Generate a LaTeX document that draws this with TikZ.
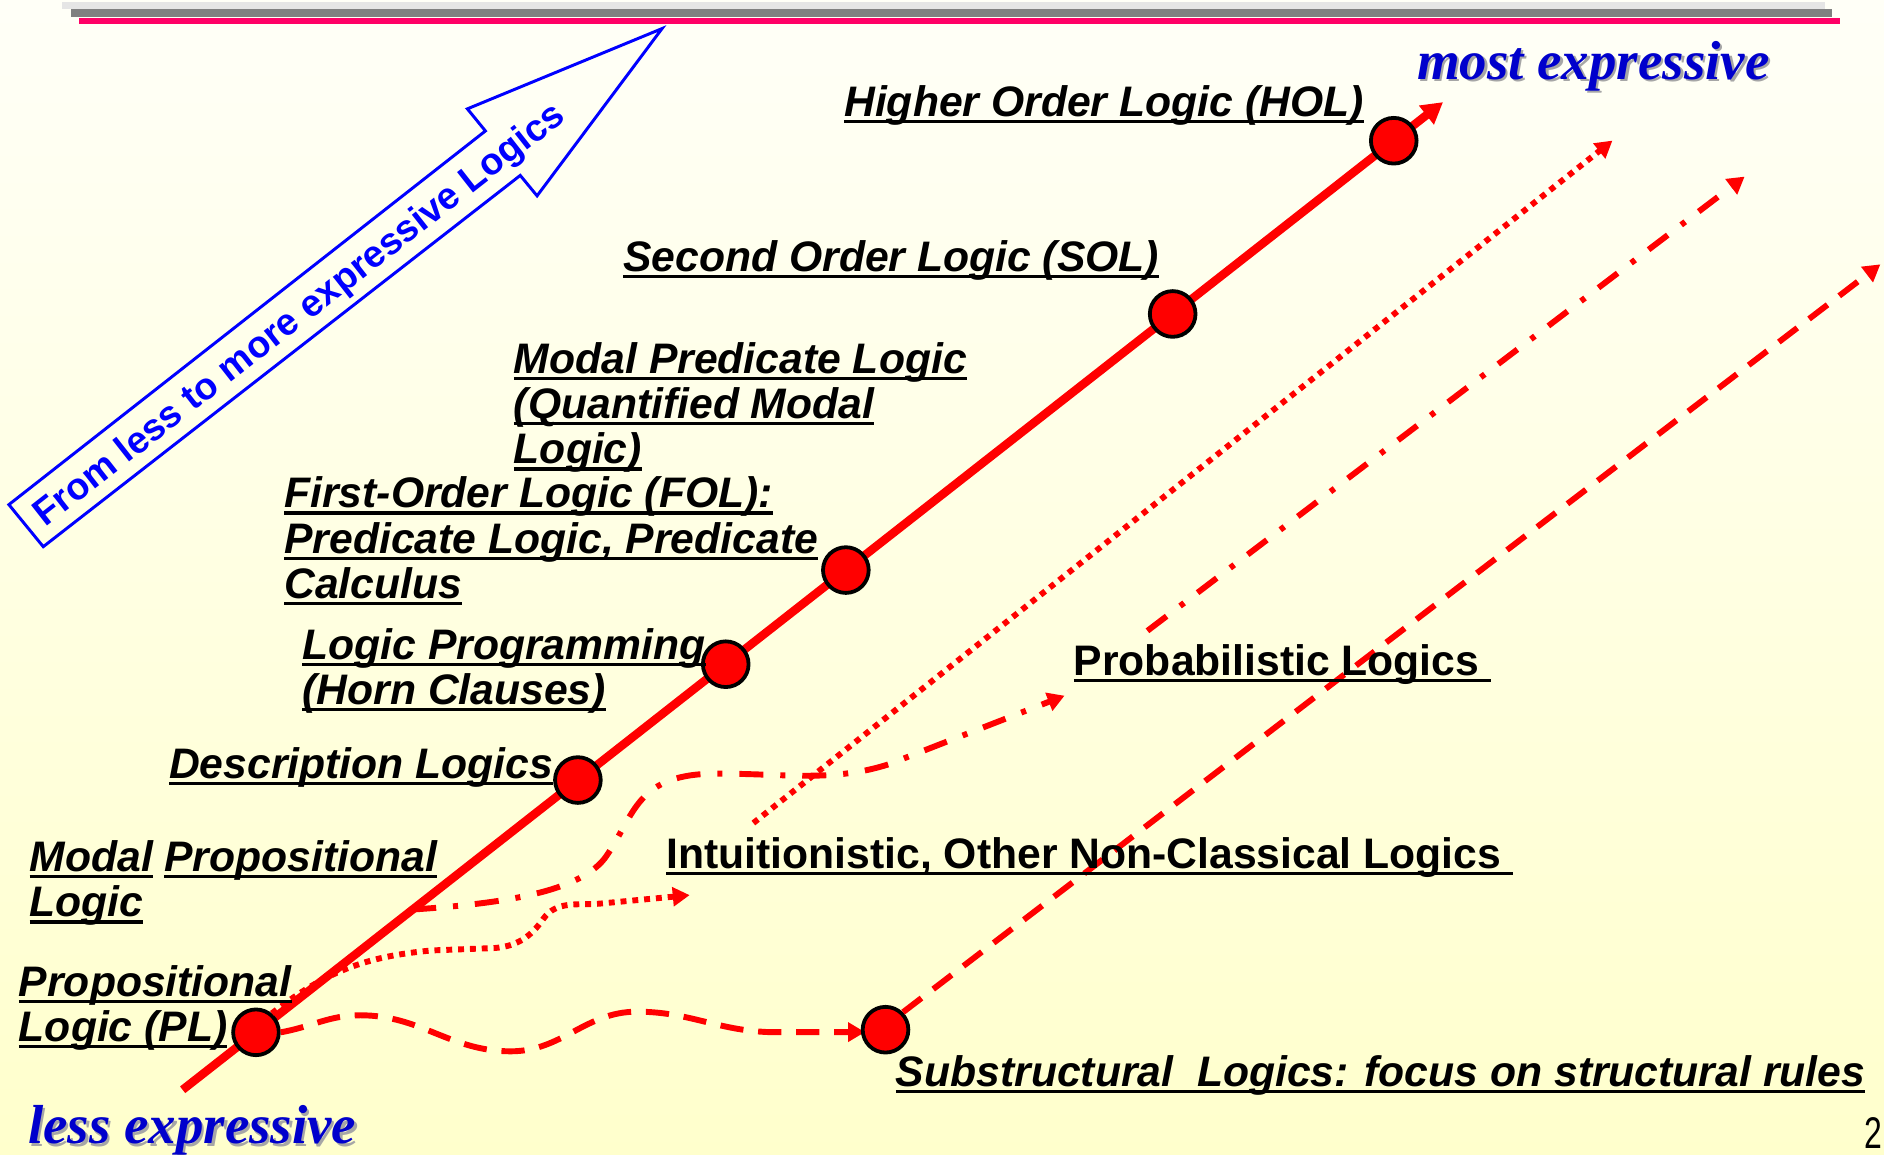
\documentclass[tikz,border=0pt]{standalone}
\usepackage{fontspec}
\setmainfont{Liberation Sans}
\newfontfamily\tms{Liberation Serif}
\usetikzlibrary{arrows.meta}
\usetikzlibrary{positioning}
\definecolor{mred}{rgb}{1, 0, 0}
\definecolor{mpink}{rgb}{1, 0, 0.4}
\definecolor{mblue}{rgb}{0, 0, 1}
\definecolor{mnavy}{rgb}{0, 0, 0.8}
\definecolor{mcream}{rgb}{1, 1, 0.8}
\definecolor{mtop}{rgb}{1, 1, 0.97}
\newcommand{\uln}[1]{\setbox0\hbox{#1}\rlap{\rule[-1.6pt]{\wd0}{0.8pt}}\box0}
\tikzset{dot/.style = {draw = black, fill = mred, circle, line width = 0.9pt, inner sep = 0, minimum size = 0.38cm}}
\tikzset{lbl/.style = {anchor = base west, inner sep = 0, align = left, font = \bfseries\itshape\fontsize{10.1}{10.7}\selectfont}}
\tikzset{flow/.style = {draw = mred, line width = 1.4pt, -{Triangle[length = 4pt, width = 4.4pt]}}}
\tikzset{dsh/.style = {dash pattern = on 5.5pt off 3.5pt}}
\tikzset{dtt/.style = {dash pattern = on 1.4pt off 1.4pt}}
\tikzset{dshdt/.style = {dash pattern = on 5.7pt off 4pt on 1.2pt off 4pt}}

\begin{document}
\begin{tikzpicture}[x = 0.01cm, y = -0.01cm]
  \useasboundingbox (0, 0) rectangle (1568, 961);
  \shade[top color = mtop, bottom color = mcream] (0, 0) rectangle (1568, 961);
  \fill[black!10] (52, 1.5) rectangle (1519, 7.4);
  \fill[black!50] (59, 7.4) rectangle (1525, 14);
  \fill[mpink] (66, 15) rectangle (1531, 20);

  % big hollow arrow
  \draw[mblue, line width = 0.7pt] (7.4, 420) -- (404, 109) -- (389, 90.6) -- (551, 23.8)
    -- (447, 163) -- (433, 146) -- (36, 455) -- cycle;
  \node[rotate = 38.1, text = mblue, font = \bfseries\fontsize{8.9}{10}\selectfont] (way) at (250, 263) {From less to more expressive Logics};

  \node[text = black!35, font = \tms\bfseries\itshape\fontsize{13}{14}\selectfont] at (1328, 57) {most expressive};
  \node[text = mnavy, font = \tms\bfseries\itshape\fontsize{13}{14}\selectfont] (most) at (1326, 55) {most expressive};
  \node[text = black!35, font = \tms\bfseries\itshape\fontsize{13}{14}\selectfont] at (162, 943) {less expressive};
  \node[text = mnavy, font = \tms\bfseries\itshape\fontsize{13}{14}\selectfont] (less) at (160, 941) {less expressive};

  % main line
  \coordinate (lo) at (152, 907);
  \coordinate (hi) at (1201, 85);
  \draw[mred, line width = 2pt, -{Triangle[length = 5pt, width = 5.4pt]}] (lo) -- (hi)
    node[dot, pos = 0.0582] (pl) {}
    node[dot, pos = 0.3136] (dl) {}
    node[dot, pos = 0.4309] (lp) {}
    node[dot, pos = 0.5262] (fol) {}
    node[dot, pos = 0.7855] (sol) {}
    node[dot, pos = 0.9609] (hol) {};
  \coordinate (mpl) at (343, 757);

  % branches
  \draw[flow, dsh] (pl.east) to[out = 10, in = 180] (300, 845) to[out = 0, in = 180] (425, 875)
    to[out = 0, in = 180] (530, 842) to[out = 0, in = 178] (640, 859) -- (720, 859) coordinate (subin);
  \node[dot] (sub) at (737, 857) {};
  \coordinate (dshend) at (1565, 220);
  \draw[flow, dsh] (sub.45) -- (dshend);

  \coordinate (intuin) at (574, 745);
  \draw[flow, dtt] (pl.50) to[out = 38, in = 185] (360, 791) -- (412, 789)
    to[out = 5, in = 235] (452, 765) to[out = 55, in = 185] (500, 752) -- (intuin);
  \coordinate (dttlo) at (627, 685);
  \coordinate (dtthi) at (1342, 117);
  \draw[flow, dtt] (dttlo) -- (dtthi);

  \coordinate (probin) at (886, 579);
  \draw[flow, dshdt] (mpl) .. controls (420, 752) and (485, 742) .. (505, 712)
    .. controls (528, 678) and (530, 646) .. (590, 644) .. controls (650, 643) and (690, 652) .. (740, 636) -- (probin);
  \coordinate (ddlo) at (955, 525);
  \coordinate (ddhi) at (1452, 147);
  \draw[flow, dshdt] (ddlo) -- (ddhi);

  % labels (base = last line)
  \node[lbl] (tHOL) at (702, 97) {\uln{Higher Order Logic (HOL)}};
  \node[lbl] (tSOL) at (518, 226) {\uln{Second Order Logic (SOL)}};
  \node[lbl] (tMPL) at (427, 386) {\uln{Modal Predicate Logic}\\\uln{(Quantified Modal}\\\uln{Logic)}};
  \node[lbl] (tFOL) at (236, 498) {\uln{First-Order Logic (FOL):}\\\uln{Predicate Logic, Predicate}\\\uln{Calculus}};
  \node[lbl] (tLP) at (251, 586.5) {\uln{Logic Programming}\\\uln{(Horn Clauses)}};
  \node[lbl] (tDL) at (140, 648) {\uln{Description Logics}};
  \node[lbl] (tML) at (24, 763) {\uln{Modal}\\\uln{Logic}};
  \node[lbl] (tMP) at (136, 725.5) {\uln{Propositional}};
  \node[lbl] (tPL) at (15, 867) {\uln{Propositional}\\\uln{Logic (PL)}};
  \node[lbl, font = \bfseries\fontsize{10.1}{10.7}\selectfont] (tPR) at (893, 562) {\uln{Probabilistic Logics\ }};
  \node[lbl, font = \bfseries\fontsize{10.1}{10.7}\selectfont] (tIN) at (554, 723) {\uln{Intuitionistic, Other Non-Classical Logics\ }};
  \node[lbl] (tSUB) at (745, 904) {\uln{Substructural\ \ Logics: focus on structural rules}};
  \node[anchor = base west, inner sep = 0, font = \fontsize{10.5}{11}\selectfont] (page) at (1551, 956) {\scalebox{0.72}[1]{2}};
\end{tikzpicture}
\end{document}
